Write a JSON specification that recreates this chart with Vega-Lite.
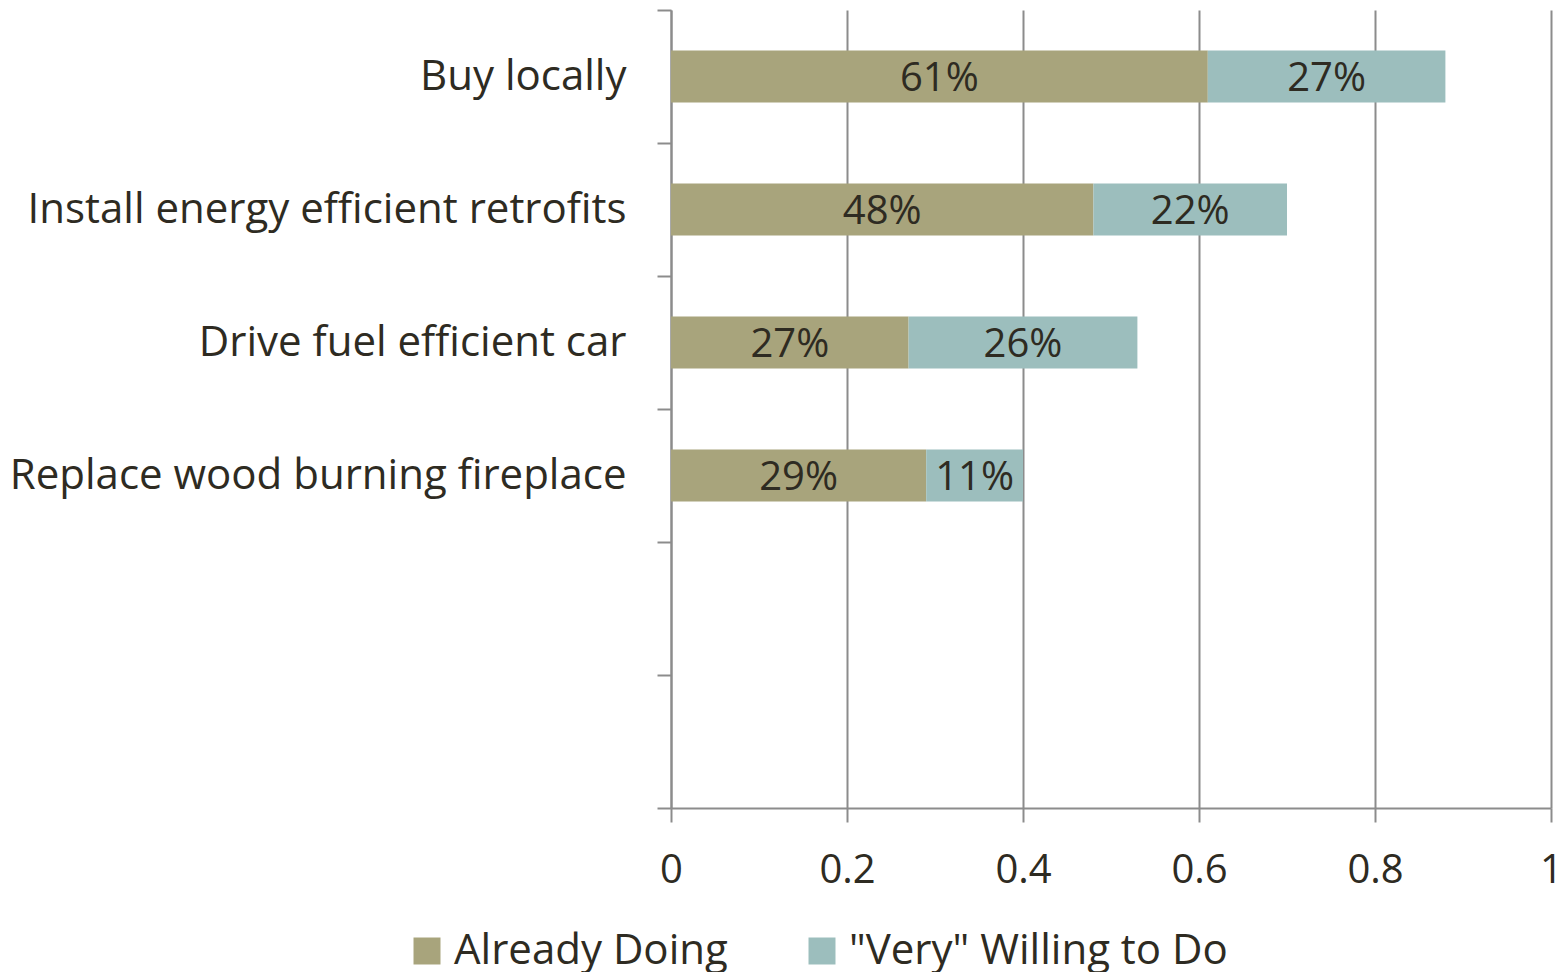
{
  "$schema": "https://vega.github.io/schema/vega-lite/v6.json",
  "width": 880,
  "height": 798,
  "autosize": {"type": "none"},
  "padding": {"left": 671, "top": 10, "right": 16, "bottom": 164},
  "background": "white",
  "config": {
    "view": {"stroke": null},
    "font": "Open Sans",
    "axis": {"labelFont": "Open Sans", "labelColor": "#2E2B22", "domainColor": "#8C8C8C", "tickColor": "#8C8C8C", "gridColor": "#8C8C8C", "domainWidth": 2, "tickWidth": 2, "gridWidth": 2}
  },
  "data": {
    "values": [
      {"item": "Buy locally", "status": "Already Doing", "value": 0.61},
      {"item": "Buy locally", "status": "\"Very\" Willing to Do", "value": 0.27},
      {"item": "Install energy efficient retrofits", "status": "Already Doing", "value": 0.48},
      {"item": "Install energy efficient retrofits", "status": "\"Very\" Willing to Do", "value": 0.22},
      {"item": "Drive fuel efficient car", "status": "Already Doing", "value": 0.27},
      {"item": "Drive fuel efficient car", "status": "\"Very\" Willing to Do", "value": 0.26},
      {"item": "Replace wood burning fireplace", "status": "Already Doing", "value": 0.29},
      {"item": "Replace wood burning fireplace", "status": "\"Very\" Willing to Do", "value": 0.11}
    ]
  },
  "transform": [
    {"calculate": "datum.status === 'Already Doing' ? 0 : 1", "as": "rank"},
    {"stack": "value", "groupby": ["item"], "sort": [{"field": "rank", "order": "ascending"}], "as": ["x0", "x1"]},
    {"calculate": "(datum.x0 + datum.x1) / 2", "as": "mid"}
  ],
  "encoding": {
    "y": {
      "field": "item",
      "type": "nominal",
      "title": null,
      "scale": {
        "domain": ["Buy locally", "Install energy efficient retrofits", "Drive fuel efficient car", "Replace wood burning fireplace", " ", "  "],
        "paddingInner": 0,
        "paddingOuter": 0
      },
      "axis": {"tickBand": "extent", "tickSize": 14, "labelPadding": 31, "labelFontSize": 42, "labelLimit": 700, "domain": true, "grid": false}
    }
  },
  "layer": [
    {
      "mark": {"type": "bar", "height": {"band": 0.39}},
      "encoding": {
        "x": {
          "field": "x0",
          "type": "quantitative",
          "title": null,
          "scale": {"domain": [0, 1], "nice": false},
          "axis": {"values": [0, 0.2, 0.4, 0.6, 0.8, 1], "format": "~g", "grid": true, "tickSize": 14, "labelPadding": 28, "labelFontSize": 40, "labelFlush": false, "domain": true}
        },
        "x2": {"field": "x1"},
        "color": {
          "field": "status",
          "type": "nominal",
          "scale": {"domain": ["Already Doing", "\"Very\" Willing to Do"], "range": ["#A8A47C", "#9CBEBD"]},
          "legend": {
            "title": null,
            "orient": "none",
            "direction": "horizontal",
            "legendX": -265,
            "legendY": 920,
            "symbolType": "square",
            "symbolSize": 729,
            "symbolStrokeWidth": 0,
            "symbolOpacity": 1,
            "labelFontSize": 42,
            "labelColor": "#2E2B22",
            "labelFont": "Open Sans",
            "labelLimit": 600,
            "labelOffset": 6,
            "columnPadding": 73
          }
        }
      }
    },
    {
      "mark": {"type": "text", "fontSize": 40, "color": "#2E2B22", "baseline": "middle", "dy": 2},
      "encoding": {
        "x": {"field": "mid", "type": "quantitative"},
        "text": {"field": "value", "type": "quantitative", "format": ".0%"}
      }
    }
  ]
}
